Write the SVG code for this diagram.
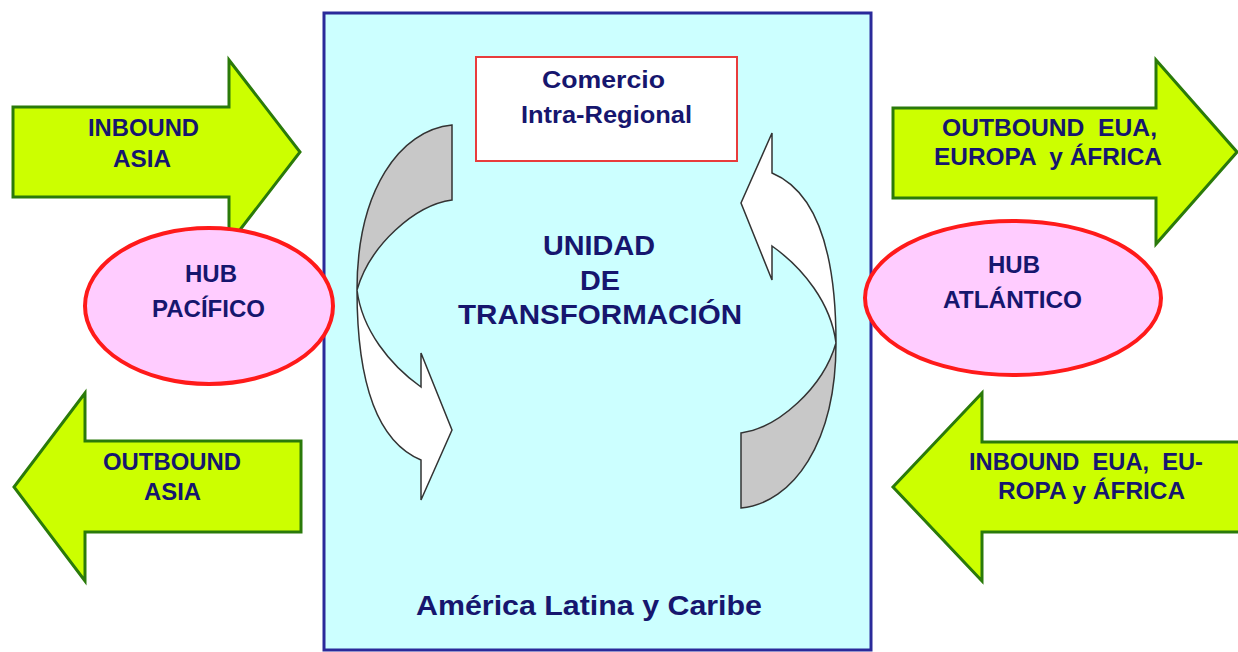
<svg xmlns="http://www.w3.org/2000/svg" width="1238" height="652" viewBox="0 0 1238 652">
<style>
.arr{fill:#ccff00;stroke:#2a7a0a;stroke-width:3;stroke-linejoin:miter}
.hub{fill:#ffccff;stroke:#ff1a1a;stroke-width:4}
.t{font-family:"Liberation Sans",Arial,sans-serif;font-weight:bold;fill:#16166e}
.s24{font-size:24px}
.s28{font-size:28px}
.cg{fill:#c8c8c8;stroke:#333;stroke-width:1.5}
.cw{fill:#ffffff;stroke:#333;stroke-width:1.5}
</style>
<rect x="0" y="0" width="1238" height="652" fill="#ffffff"/>
<g id="region">
<rect x="324" y="13" width="547" height="637" fill="#ccffff" stroke="#2a2a9a" stroke-width="3"/>
<text class="t s28" x="416" y="615" textLength="346" lengthAdjust="spacingAndGlyphs">América Latina y Caribe</text>
</g>
<g id="comercio">
<rect x="476" y="57" width="261" height="104" fill="#ffffff" stroke="#e83c3c" stroke-width="2"/>
<text class="t s24" x="542" y="88" textLength="123" lengthAdjust="spacingAndGlyphs">Comercio</text>
<text class="t s24" x="521" y="123" textLength="171" lengthAdjust="spacingAndGlyphs">Intra-Regional</text>
</g>
<g id="unidad">
<text class="t s28" x="543" y="255" textLength="112" lengthAdjust="spacingAndGlyphs">UNIDAD</text>
<text class="t s28" x="580" y="290" textLength="40" lengthAdjust="spacingAndGlyphs">DE</text>
<text class="t s28" x="458" y="324" textLength="284" lengthAdjust="spacingAndGlyphs">TRANSFORMACIÓN</text>
</g>
<g id="connectors">
<g id="cycle-left">
<path class="cg" d="M452,125 C400,130 357,190 357,290 C370,245 415,205 452,200 Z"/>
<path class="cw" d="M357,290 C357,400 385,445 421,460 L421,500 L452,430 L421,353 L421,387 C390,365 362,330 357,290 Z"/>
</g>
<g id="cycle-right" transform="rotate(180 596.5 316.5)">
<path class="cg" d="M452,125 C400,130 357,190 357,290 C370,245 415,205 452,200 Z"/>
<path class="cw" d="M357,290 C357,400 385,445 421,460 L421,500 L452,430 L421,353 L421,387 C390,365 362,330 357,290 Z"/>
</g>
</g>
<g id="inbound-asia">
<polygon class="arr" points="13,107 229,107 229,60 300,152 229,244 229,197 13,197"/>
<text class="t s24" x="88" y="136" textLength="111" lengthAdjust="spacingAndGlyphs">INBOUND</text>
<text class="t s24" x="113" y="167" textLength="58" lengthAdjust="spacingAndGlyphs">ASIA</text>
</g>
<g id="outbound-asia">
<polygon class="arr" points="301,441 85,441 85,393 14,487 85,581 85,532 301,532"/>
<text class="t s24" x="103" y="470" textLength="138" lengthAdjust="spacingAndGlyphs">OUTBOUND</text>
<text class="t s24" x="144" y="500" textLength="57" lengthAdjust="spacingAndGlyphs">ASIA</text>
</g>
<g id="outbound-eua">
<polygon class="arr" points="893,108 1156,108 1156,60 1237,152 1156,244 1156,198 893,198"/>
<text class="t s24" x="942" y="136" textLength="215" lengthAdjust="spacingAndGlyphs" xml:space="preserve">OUTBOUND  EUA,</text>
<text class="t s24" x="934" y="165" textLength="228" lengthAdjust="spacingAndGlyphs" xml:space="preserve">EUROPA  y ÁFRICA</text>
</g>
<g id="inbound-eua">
<polygon class="arr" points="1242,442 982,442 982,393 893,487 982,581 982,532 1242,532"/>
<text class="t s24" x="969" y="470" textLength="234" lengthAdjust="spacingAndGlyphs" xml:space="preserve">INBOUND  EUA,  EU-</text>
<text class="t s24" x="998" y="499" textLength="187" lengthAdjust="spacingAndGlyphs">ROPA y ÁFRICA</text>
</g>
<g id="hub-pacifico">
<ellipse class="hub" cx="209" cy="306" rx="124" ry="78"/>
<text class="t s24" x="185" y="282" textLength="52" lengthAdjust="spacingAndGlyphs">HUB</text>
<text class="t s24" x="152" y="317" textLength="113" lengthAdjust="spacingAndGlyphs">PACÍFICO</text>
</g>
<g id="hub-atlantico">
<ellipse class="hub" cx="1013" cy="298" rx="148" ry="77"/>
<text class="t s24" x="988" y="273" textLength="52" lengthAdjust="spacingAndGlyphs">HUB</text>
<text class="t s24" x="943" y="308" textLength="139" lengthAdjust="spacingAndGlyphs">ATLÁNTICO</text>
</g>
</svg>
